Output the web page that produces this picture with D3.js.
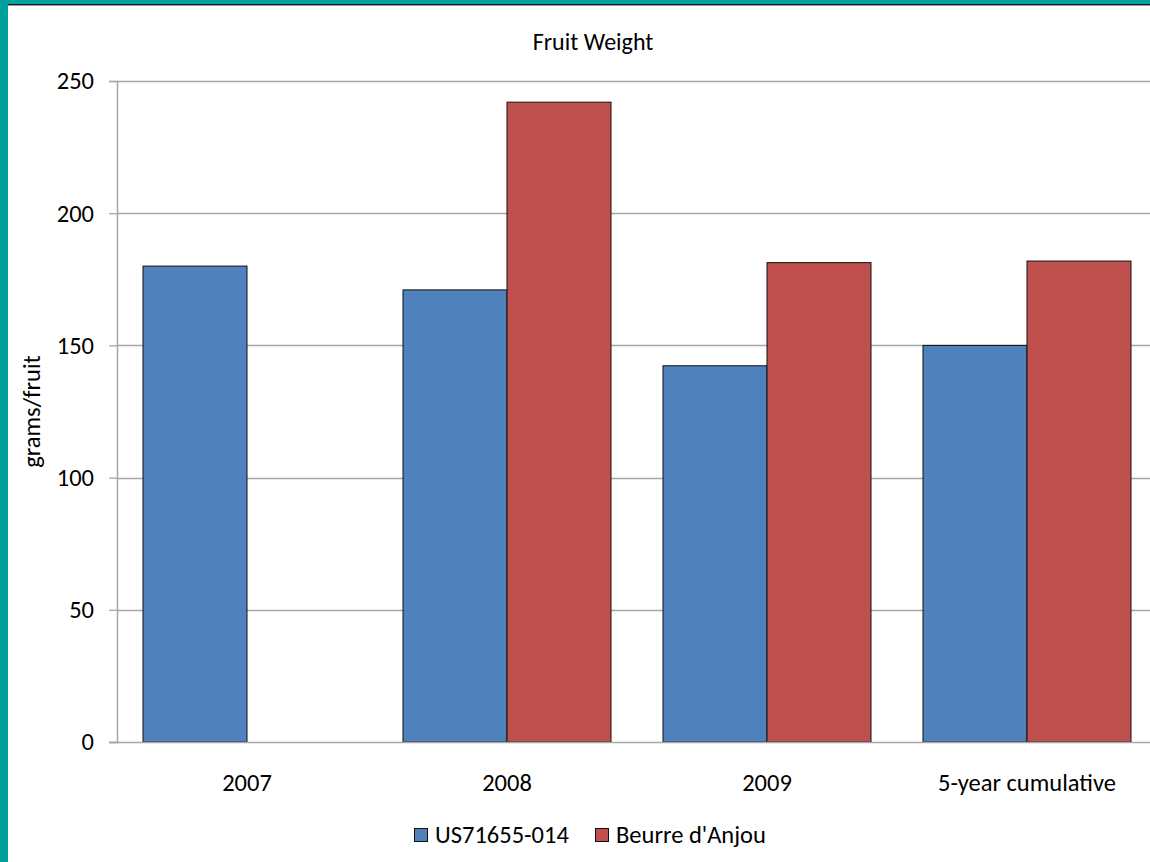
<!DOCTYPE html>
<html>
<head>
<meta charset="utf-8">
<script src="https://cdn.jsdelivr.net/npm/d3@7/dist/d3.min.js"></script>
<style>
  html, body { margin: 0; padding: 0; background: #fff; }
  svg { display: block; }
  text { font-family: Carlito, Calibri, "Liberation Sans", Arial, sans-serif; fill: #000; }
</style>
</head>
<body>
<svg id="chart" width="1150" height="862"></svg>
<script>
// Fruit weight (grams per fruit) by season
const categories = ["2007", "2008", "2009", "5-year cumulative"];
const seriesNames = ["US71655-014", "Beurre d'Anjou"];
const us71655 = [180, 171, 142.3, 150];
const beurreAnjou = [null, 242, 181.3, 181.9];
const yTicks = [0, 50, 100, 150, 200, 250];
const colors = ["#4f81bd", "#c0504d"];

const svg = d3.select("#chart");
const W = 1150, H = 862;
const plot = { left: 117, right: 1157, top: 81, bottom: 742 };
const labelSize = 24.5;

// frame: teal band on top and left
svg.append("rect").attr("x", 0).attr("y", 0).attr("width", W).attr("height", H).attr("fill", "#fff");
svg.append("rect").attr("x", 0).attr("y", 0).attr("width", W).attr("height", 4).attr("fill", "#00a19a");
svg.append("rect").attr("x", 0).attr("y", 0).attr("width", 8).attr("height", H).attr("fill", "#00a19a");
svg.append("line").attr("x1", 8).attr("x2", W).attr("y1", 4.5).attr("y2", 4.5)
  .attr("stroke", "#1a1a1a").attr("stroke-width", 1);
svg.append("line").attr("x1", 8).attr("x2", W).attr("y1", 5.5).attr("y2", 5.5)
  .attr("stroke", "#9a9a9a").attr("stroke-width", 1);

const x = d3.scaleBand().domain(categories)
  .range([plot.left, plot.right]).paddingInner(0.2).paddingOuter(0.1);
const xs = d3.scaleBand().domain(seriesNames).range([0, x.bandwidth()]);
const y = d3.scaleLinear().domain([0, 250]).range([plot.bottom, plot.top]);

// horizontal gridlines
svg.append("g").selectAll("line").data(yTicks.filter(t => t > 0)).join("line")
  .attr("x1", plot.left).attr("x2", W)
  .attr("y1", d => Math.round(y(d)) + 0.5).attr("y2", d => Math.round(y(d)) + 0.5)
  .attr("stroke", "#a6a6a6").attr("stroke-width", 1.3);

// bars
const rows = categories.map((c, i) => ({ cat: c, vals: [us71655[i], beurreAnjou[i]] }));
const groups = svg.append("g").selectAll("g").data(rows).join("g")
  .attr("transform", d => `translate(${x(d.cat)},0)`);
groups.selectAll("rect")
  .data(d => d.vals.map((v, k) => ({ v, k })).filter(e => e.v != null))
  .join("rect")
  .attr("x", e => xs(seriesNames[e.k]))
  .attr("width", xs.bandwidth())
  .attr("y", e => y(e.v))
  .attr("height", e => y(0) - y(e.v))
  .attr("fill", e => colors[e.k])
  .attr("stroke", "#111")
  .attr("stroke-width", 1);

// y axis
const yAxis = d3.axisLeft(y).tickValues(yTicks).tickSize(8).tickPadding(15);
const gy = svg.append("g").attr("transform", `translate(${plot.left},0)`).call(yAxis);
gy.select(".domain").attr("stroke", "#a6a6a6").attr("stroke-width", 1.5);
gy.selectAll(".tick line").attr("stroke", "#a6a6a6").attr("stroke-width", 1.3);
gy.selectAll(".tick text").attr("font-size", labelSize).attr("font-family", null).style("fill", "#000");

// x axis baseline
svg.append("line").attr("x1", plot.left - 8).attr("x2", W)
  .attr("y1", y(0) + 0.5).attr("y2", y(0) + 0.5)
  .attr("stroke", "#a6a6a6").attr("stroke-width", 1.5);

// category labels
svg.append("g").selectAll("text").data(categories).join("text")
  .attr("x", d => x(d) + x.bandwidth() / 2)
  .attr("y", 791)
  .attr("text-anchor", "middle")
  .attr("font-size", labelSize)
  .text(d => d);

// title
svg.append("text").attr("x", 593).attr("y", 50).attr("text-anchor", "middle")
  .attr("font-size", 24).text("Fruit Weight");

// y axis title
svg.append("text")
  .attr("transform", `translate(40,${(plot.top + plot.bottom) / 2}) rotate(-90)`)
  .attr("text-anchor", "middle").attr("font-size", labelSize).text("grams/fruit");

// legend
const legendX = [414, 595];
const leg = svg.append("g").selectAll("g").data(seriesNames).join("g")
  .attr("transform", (d, i) => `translate(${legendX[i]},828)`);
leg.append("rect").attr("x", 0.5).attr("y", 0.5).attr("width", 13).attr("height", 13)
  .attr("fill", (d, i) => colors[i]).attr("stroke", "#111").attr("stroke-width", 1);
leg.append("text").attr("x", 21).attr("y", 15).attr("font-size", labelSize).text(d => d);
</script>
</body>
</html>
